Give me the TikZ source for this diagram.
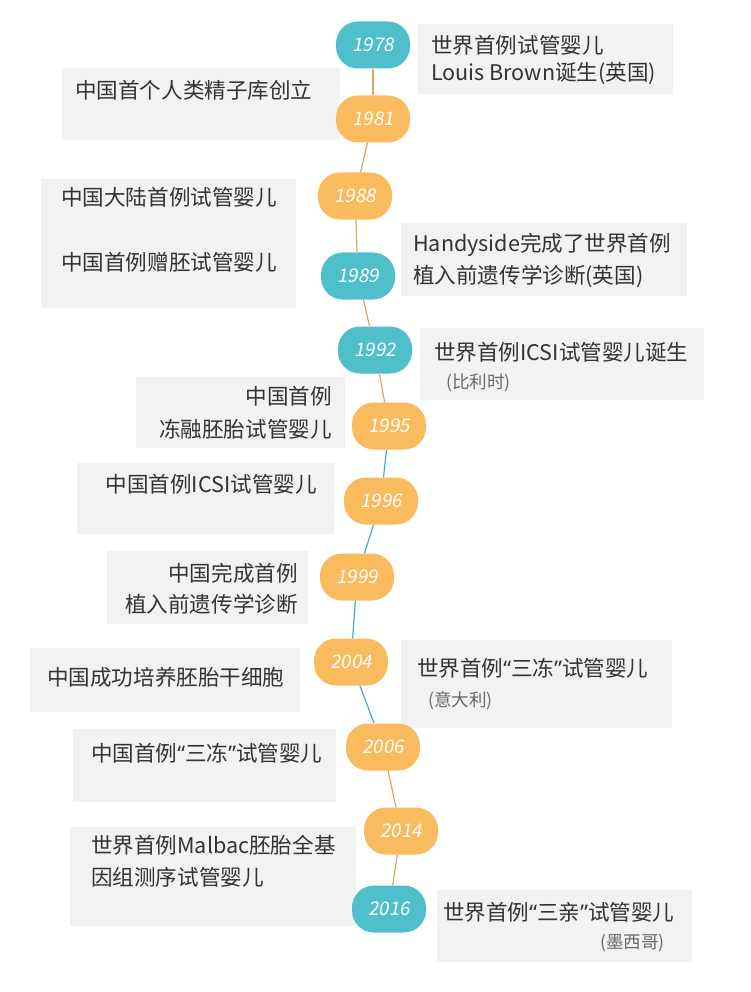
\documentclass[tikz,border=0pt]{standalone}
\usepackage{fontspec}
\setmainfont{Noto Sans CJK SC}
\newfontfamily\yearfont[FakeSlant=0.18]{Noto Sans CJK SC}
\newfontfamily\quotefont{Noto Sans}
\newcommand\cnquoted[1]{{\quotefont “}#1{\quotefont ”}}
\usepackage{xcolor}
\usepackage{tikz}
\usetikzlibrary{positioning,fit,backgrounds}
\definecolor{worldteal}{HTML}{4FBFCC}
\definecolor{chinaamber}{HTML}{FABA5E}
\definecolor{panelgray}{HTML}{F2F2F2}
\definecolor{ink}{HTML}{333333}
\definecolor{note}{HTML}{6A6A6A}
\definecolor{tanline}{HTML}{DCA45E}
\definecolor{tealline}{HTML}{3BAFBA}
\tikzset{
  yearpill/.style={rectangle, rounded corners=0.66cm, minimum width=2.22cm,
                   minimum height=1.41cm, inner sep=0pt, text=white,
                   font=\yearfont\fontsize{16}{18}\selectfont},
  worldyear/.style={yearpill, fill=worldteal},
  chinayear/.style={yearpill, fill=chinaamber},
  panel/.style={rectangle, fill=panelgray, inner sep=0pt},
  entry/.style={inner sep=0pt, text=ink, font=\fontsize{18.4}{22}\selectfont},
  aside/.style={inner sep=0pt, text=note, font=\fontsize{15}{18}\selectfont},
  tanlink/.style={line width=1pt, tanline},
  teallink/.style={line width=1pt, tealline},
}

\begin{document}
\begin{tikzpicture}[x=0.03cm, y=-0.03cm]
\useasboundingbox (0,0) rectangle (750,992);

% ── Grey panels (behind everything) ─────────────────────────
\node[panel, fit={(418,24)(673,94)}]   (p1978) {};
\node[panel, fit={(62,68)(340,140)}]   (p1981) {};
\node[panel, fit={(41,179)(296,308)}]  (p1988) {};
\node[panel, fit={(401,223)(687,296)}] (p1989) {};
\node[panel, fit={(420,328)(704,400)}] (p1992) {};
\node[panel, fit={(136,377)(345,448)}] (p1995) {};
\node[panel, fit={(77,463)(334,534)}]  (p1996) {};
\node[panel, fit={(107,551)(308,624)}] (p1999) {};
\node[panel, fit={(30,648)(300,712)}]  (p2004l) {};
\node[panel, fit={(401,640)(672,728)}] (p2004r) {};
\node[panel, fit={(73,729)(336,802)}]  (p2006) {};
\node[panel, fit={(70,827)(356,926)}]  (p2014) {};
\node[panel, fit={(437,890)(692,962)}] (p2016) {};

% ── Panel texts ─────────────────────────────────────────────
\node[entry, anchor=west] (t1978a) at (431,45) {世界首例试管婴儿};
\node[entry, anchor=west] (t1978b) at (431,74) {Louis Brown诞生(英国)};
\node[entry, anchor=west] (t1981)  at (75,90)  {中国首个人类精子库创立};
\node[entry, anchor=west] (t1988)  at (61,197) {中国大陆首例试管婴儿};
\node[entry, anchor=west] (t1989l) at (61,262) {中国首例赠胚试管婴儿};
\node[entry, anchor=west] (t1989a) at (413,245) {Handyside完成了世界首例};
\node[entry, anchor=west] (t1989b) at (413,276) {植入前遗传学诊断(英国)};
\node[entry, anchor=west] (t1992)  at (434,352) {世界首例ICSI试管婴儿诞生};
\node[aside, anchor=west] (n1992)  at (446,383) {(比利时)};
\node[entry, anchor=east] (t1995a) at (332,396) {中国首例};
\node[entry, anchor=east] (t1995b) at (332,429) {冻融胚胎试管婴儿};
\node[entry, anchor=east] (t1996)  at (317,484) {中国首例ICSI试管婴儿};
\node[entry, anchor=east] (t1999a) at (298,573) {中国完成首例};
\node[entry, anchor=east] (t1999b) at (298,604) {植入前遗传学诊断};
\node[entry, anchor=west] (t2004l) at (47,677)  {中国成功培养胚胎干细胞};
\node[entry, anchor=west] (t2004r) at (417,668) {世界首例\cnquoted{三冻}试管婴儿};
\node[aside, anchor=west] (n2004)  at (428,701) {(意大利)};
\node[entry, anchor=west] (t2006)  at (91,753)  {中国首例\cnquoted{三冻}试管婴儿};
\node[entry, anchor=west] (t2014a) at (91,845)  {世界首例Malbac胚胎全基};
\node[entry, anchor=west] (t2014b) at (91,877)  {因组测序试管婴儿};
\node[entry, anchor=west] (t2016)  at (443,912) {世界首例\cnquoted{三亲}试管婴儿};
\node[aside, anchor=east] (n2016)  at (665,943) {(墨西哥)};

% ── Year pills on the time line ─────────────────────────────
\node[worldyear] (y1978) at (373,45)  {1978};
\node[chinayear] (y1981) at (373,119) {1981};
\node[chinayear] (y1988) at (355,196) {1988};
\node[worldyear] (y1989) at (358,276) {1989};
\node[worldyear] (y1992) at (375,350) {1992};
\node[chinayear] (y1995) at (389,426) {1995};
\node[chinayear] (y1996) at (381,501) {1996};
\node[chinayear] (y1999) at (357,577) {1999};
\node[chinayear] (y2004) at (351,662) {2004};
\node[chinayear] (y2006) at (383,747) {2006};
\node[chinayear] (y2014) at (401,831) {2014};
\node[worldyear] (y2016) at (389,909) {2016};

% ── Time line segments ──────────────────────────────────────
\draw[tanlink]  (y1978) -- (y1981);
\draw[tanlink]  (y1981) -- (y1988);
\draw[tanlink]  (y1988) -- (y1989);
\draw[tanlink]  (y1989) -- (y1992);
\draw[tanlink]  (y1992) -- (y1995);
\draw[teallink] (y1995) -- (y1996);
\draw[teallink] (y1996) -- (y1999);
\draw[teallink] (y1999) -- (y2004);
\draw[teallink] (y2004) -- (y2006);
\draw[tanlink]  (y2006) -- (y2014);
\draw[tanlink]  (y2014) -- (y2016);

\end{tikzpicture}
\end{document}
